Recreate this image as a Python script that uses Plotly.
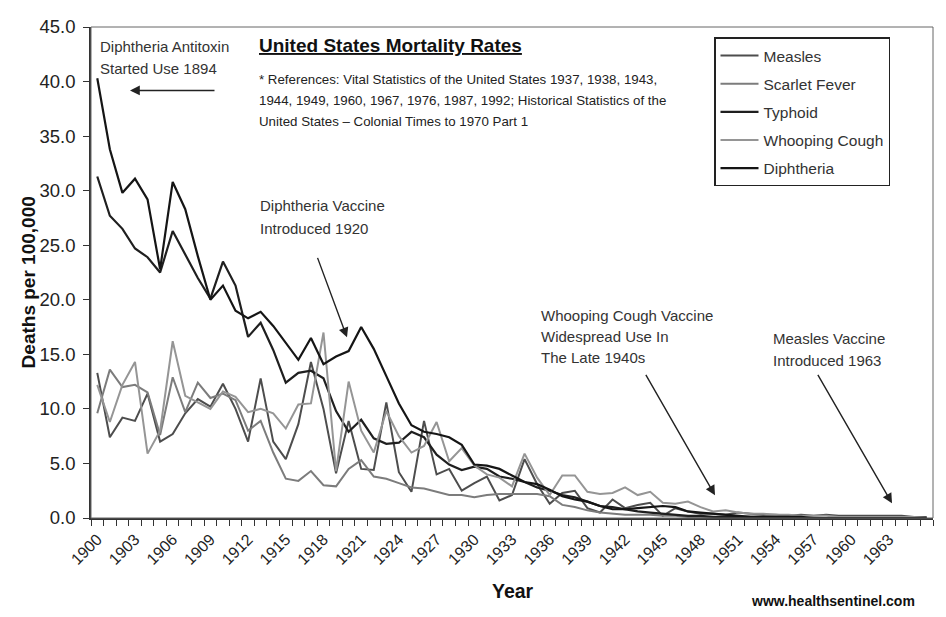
import plotly.graph_objects as go

years = list(range(1900, 1967))

measles = [13.3, 7.4, 9.2, 8.9, 11.4, 7.0, 7.7, 9.6, 10.9, 10.2,
           12.3, 10.0, 7.0, 12.8, 7.0, 5.4, 8.6, 14.3, 10.0, 4.1,
           8.9, 4.5, 4.4, 10.6, 4.2, 2.4, 8.9, 4.0, 4.5, 2.5,
           3.2, 3.8, 1.6, 2.1, 5.4, 3.1, 1.3, 2.3, 2.5, 0.9,
           0.5, 1.7, 0.9, 1.2, 1.4, 0.2, 0.9, 0.6, 0.4, 0.4,
           0.3, 0.5, 0.4, 0.3, 0.3, 0.2, 0.3, 0.2, 0.3, 0.2,
           0.2, 0.2, 0.2, 0.2, 0.2, 0.1, 0.1]

scarlet = [9.6, 13.6, 12.0, 12.2, 11.5, 7.6, 12.9, 9.7, 12.4, 11.0,
           11.4, 10.8, 8.0, 8.9, 6.0, 3.6, 3.4, 4.3, 3.0, 2.9,
           4.5, 5.3, 3.8, 3.6, 3.2, 2.8, 2.7, 2.4, 2.1, 2.1,
           1.9, 2.1, 2.2, 2.2, 2.2, 2.2, 2.0, 1.2, 1.0, 0.7,
           0.5, 0.4, 0.3, 0.3, 0.3, 0.2, 0.2, 0.1, 0.1, 0.1,
           0.1, 0.1, 0.0, 0.0, 0.0, 0.0, 0.0, 0.0, 0.0, 0.0,
           0.0, 0.0, 0.0, 0.0, 0.0, 0.0, 0.0]

typhoid = [31.3, 27.7, 26.5, 24.7, 23.9, 22.5, 26.3, 24.2, 22.0, 20.1,
           23.5, 21.3, 16.6, 17.9, 15.4, 12.4, 13.3, 13.5, 12.8, 9.8,
           7.9, 9.0, 7.3, 6.8, 6.9, 7.9, 7.4, 5.8, 4.9, 4.4,
           4.7, 4.5, 3.8, 3.6, 3.3, 2.8, 2.5, 2.1, 1.9, 1.5,
           1.1, 1.0, 0.8, 0.6, 0.5, 0.4, 0.3, 0.2, 0.2, 0.1,
           0.1, 0.1, 0.1, 0.1, 0.0, 0.0, 0.0, 0.0, 0.0, 0.0,
           0.0, 0.0, 0.0, 0.0, 0.0, 0.0, 0.0]

whooping = [12.2, 8.8, 12.2, 14.3, 5.9, 8.0, 16.2, 11.2, 10.6, 10.0,
            11.6, 11.1, 9.7, 10.0, 9.6, 8.2, 10.4, 10.5, 17.0, 4.3,
            12.5, 8.0, 6.0, 9.8, 7.5, 6.0, 6.6, 8.8, 5.2, 6.4,
            4.8, 4.0, 3.7, 2.9, 5.9, 3.7, 2.1, 3.9, 3.9, 2.4,
            2.2, 2.3, 2.8, 2.1, 2.4, 1.4, 1.3, 1.5, 1.0, 0.6,
            0.7, 0.5, 0.4, 0.4, 0.3, 0.3, 0.2, 0.2, 0.2, 0.1,
            0.1, 0.1, 0.1, 0.1, 0.1, 0.1, 0.0]

diphtheria = [40.3, 33.8, 29.8, 31.1, 29.2, 22.8, 30.8, 28.3, 24.0, 20.0,
              21.3, 19.0, 18.3, 18.9, 17.6, 16.0, 14.5, 16.5, 14.1, 14.8,
              15.3, 17.5, 15.5, 13.0, 10.5, 8.5, 7.9, 7.7, 7.4, 6.7,
              4.9, 4.8, 4.5, 3.9, 3.3, 3.1, 2.6, 2.0, 1.7, 1.5,
              1.1, 0.8, 0.8, 0.9, 1.0, 1.1, 1.0, 0.6, 0.5, 0.4,
              0.3, 0.2, 0.1, 0.1, 0.1, 0.1, 0.1, 0.0, 0.0, 0.0,
              0.0, 0.0, 0.0, 0.0, 0.0, 0.0, 0.0]

series_names = ["Measles", "Scarlet Fever", "Typhoid", "Whooping Cough", "Diphtheria"]
series_values = [measles, scarlet, typhoid, whooping, diphtheria]
series_colors = ["#4d4d4d", "#7c7c7c", "#1f1f1f", "#959595", "#151515"]
series_widths = [2.0, 2.0, 2.2, 2.0, 2.2]

x_labels = list(range(1900, 1964, 3))
y_ticks = [0, 5, 10, 15, 20, 25, 30, 35, 40, 45]

# The page body has an 8px margin; page coordinates below are converted.
OFF = 8
W, H = 930, 601
L, R, T = 83, 5, 18.5
B = H - 509.7
PW, PH = W - L - R, H - T - B


def px(xp):
    return (xp - OFF - L) / PW


def py(yp):
    return (H - B - (yp - OFF)) / PH


fig = go.Figure()
for name, vals, col, lw in zip(series_names, series_values, series_colors, series_widths):
    fig.add_trace(go.Scatter(x=years, y=vals, mode="lines", name=name,
                             line=dict(color=col, width=lw),
                             legendgroup=name))

FONT = "Liberation Sans, Arial, sans-serif"
NARROW = "Liberation Sans Narrow, Arial Narrow, Liberation Sans, sans-serif"

fig.update_layout(
    width=W, height=H,
    margin=dict(l=L, r=R, t=T, b=B, pad=0),
    paper_bgcolor="white", plot_bgcolor="white",
    font=dict(family=FONT, color="#222"),
    showlegend=True,
    legend=dict(x=px(714), y=py(37), xanchor="left", yanchor="top",
                bordercolor="#222", borderwidth=1.5, bgcolor="white",
                font=dict(size=15.5, color="#333"), tracegroupgap=5,
                traceorder="grouped", itemwidth=38),
    xaxis=dict(range=[1899.5, 1966.5], tickmode="array",
               tickvals=x_labels, ticktext=[str(v) for v in x_labels],
               ticks="", tickangle=-45, showgrid=False, zeroline=False,
               showline=True, linecolor="#333", linewidth=1.5,
               tickfont=dict(size=16, color="#222"), ticklabelstandoff=4,
               minor=dict(tickmode="linear", tick0=1899.5, dtick=1,
                          ticks="outside", ticklen=6, tickwidth=1.3,
                          tickcolor="#333", showgrid=False)),
    yaxis=dict(range=[0, 45], tickmode="array", tickvals=y_ticks,
               ticktext=[f"{v:.1f}" for v in y_ticks],
               ticks="outside", ticklen=6, tickwidth=1.3, tickcolor="#333",
               showgrid=False, zeroline=False, showline=True,
               linecolor="#333", linewidth=1.5, ticklabelstandoff=4,
               tickfont=dict(size=18.5, color="#222")),
)

fig.add_shape(type="rect", xref="paper", yref="paper", x0=0, x1=1, y0=0, y1=1,
              line=dict(color="#666", width=1))

texts = [
    ("Diphtheria Antitoxin", 98, 46),
    ("Started Use 1894", 98, 68),
    ("Diphtheria Vaccine", 258, 205),
    ("Introduced 1920", 258, 228),
    ("Whooping Cough Vaccine", 539, 315),
    ("Widespread Use In", 539, 336),
    ("The Late 1940s", 539, 357),
    ("Measles Vaccine", 771, 338),
    ("Introduced 1963", 771, 360),
]
for t, x0, y0 in texts:
    fig.add_annotation(text=t, xref="paper", yref="paper", x=px(x0), y=py(y0),
                       xanchor="left", yanchor="middle", showarrow=False,
                       font=dict(size=15, color="#333", family=FONT))

fig.add_annotation(text="<b><u>United States Mortality Rates</u></b>", xref="paper", yref="paper",
                   x=px(257), y=py(45), xanchor="left", yanchor="middle", showarrow=False,
                   font=dict(size=19, color="#111", family=FONT))

refs = ["* References: Vital Statistics of the United States 1937, 1938, 1943,",
        "1944, 1949, 1960, 1967, 1976, 1987, 1992; Historical Statistics of the",
        "United States \u2013 Colonial Times to 1970 Part 1"]
for i, r in enumerate(refs):
    fig.add_annotation(text=r, xref="paper", yref="paper", x=px(257), y=py(79 + 21 * i),
                       xanchor="left", yanchor="middle", showarrow=False,
                       font=dict(size=13.3, color="#222", family=NARROW))

arrows = [(130, 90, 86, 0), (347, 337, -30, -81), (715, 495, -70, -122), (892, 503, -75, -130)]
for hx, hy, ax, ay in arrows:
    fig.add_annotation(text="", xref="paper", yref="paper", x=px(hx), y=py(hy),
                       ax=ax, ay=ay, showarrow=True, arrowhead=2, arrowsize=1.4,
                       arrowwidth=1.4, arrowcolor="#222")

fig.add_annotation(text="<b>Deaths per 100,000</b>", xref="paper", yref="paper",
                   x=px(28), y=py(282), textangle=-90, showarrow=False,
                   xanchor="center", yanchor="middle",
                   font=dict(size=19, color="#111", family=FONT))
fig.add_annotation(text="<b>Year</b>", xref="paper", yref="paper",
                   x=px(513), y=py(591), showarrow=False,
                   xanchor="center", yanchor="middle",
                   font=dict(size=19.5, color="#111", family=FONT))
fig.add_annotation(text="<b>www.healthsentinel.com</b>", xref="paper", yref="paper",
                   x=px(917), y=py(601), showarrow=False,
                   xanchor="right", yanchor="middle",
                   font=dict(size=14, color="#111", family=FONT))

fig.write_html("out.html")
